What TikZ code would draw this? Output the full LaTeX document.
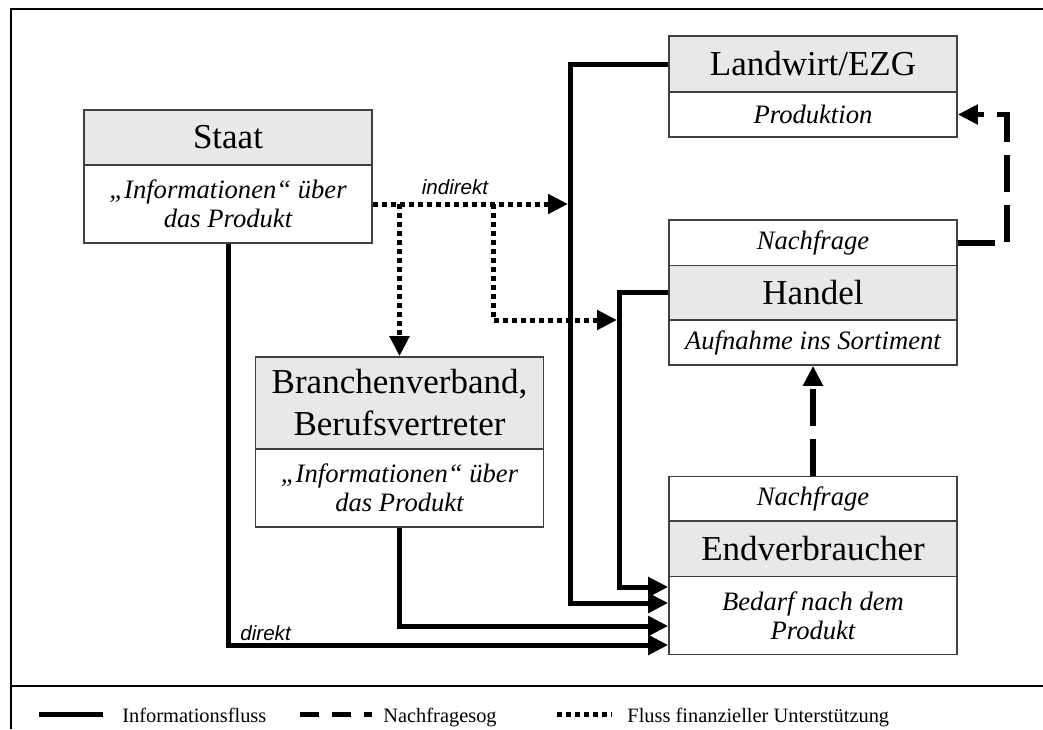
\documentclass[tikz,border=0pt]{standalone}
\usepackage{fontspec}
\setmainfont{Liberation Serif}
\setsansfont{Liberation Sans}
\usetikzlibrary{arrows.meta}
\definecolor{headgray}{gray}{0.91}
\definecolor{boxline}{gray}{0.25}
\begin{document}
\begin{tikzpicture}[x=0.5pt,y=-0.5pt,
  head/.style={draw=boxline, fill=headgray, line width=0.8pt, minimum width=144pt, inner sep=0pt, align=center, font=\fontsize{17.5}{21}\selectfont},
  body/.style={draw=boxline, fill=white, line width=0.8pt, minimum width=144pt, inner sep=0pt, align=center, font=\fontsize{13.3}{14.5}\selectfont\itshape},
  tip/.style={-{Triangle[length=10pt,width=9.5pt]}},
  info/.style={line width=2.5pt},
  demand/.style={line width=2.8pt, dash pattern=on 18.5pt off 6.5pt},
  fin/.style={line width=2.5pt, dash pattern=on 2.6pt off 1.9pt},
  lbl/.style={font=\sffamily\itshape\fontsize{10.3}{12}\selectfont, inner sep=0pt},
  legtext/.style={font=\fontsize{10.2}{12}\selectfont, inner sep=0pt, anchor=base west},
  frame/.style={line width=1pt}
]
\useasboundingbox (0,0) rectangle (1043,729);
% frame
\draw[frame] (11,729) -- (11,9) -- (1043,9);
\draw[frame] (11,686) -- (1043,686);

% Staat
\node[head, minimum height=27.5pt] (staatH) at (228,137.5) {Staat};
\node[body, minimum height=39pt] (staatB) at (228,204) {„Informationen“ über\\das Produkt};
% Landwirt
\node[head, minimum height=28pt] (landH) at (813,64) {Landwirt/EZG};
\node[body, minimum height=22.5pt] (landB) at (813,114.5) {Produktion};
% Handel
\node[body, minimum height=22.75pt] (handN) at (813,242.75) {Nachfrage};
\node[head, minimum height=27.25pt] (handH) at (813,292.75) {Handel};
\node[body, minimum height=22.5pt] (handB) at (813,342.5) {Aufnahme ins Sortiment};
% Endverbraucher
\node[body, minimum height=22.25pt] (endN) at (813,498.75) {Nachfrage};
\node[head, minimum height=27.75pt] (endH) at (813,548.75) {Endverbraucher};
\node[body, minimum height=39pt] (endB) at (813,615.5) {Bedarf nach dem\\Produkt};
% Branchenverband
\node[head, minimum height=46pt] (brH) at (399.5,403) {Branchenverband,\\Berufsvertreter};
\node[body, minimum height=39pt] (brB) at (399.5,488) {„Informationen“ über\\das Produkt};

% financial support (dotted)
\draw[fin, tip] (staatB.east) -- (568,204);
\draw[fin, tip] (399.5,204) -- (brH.north);
\draw[fin, tip] (493,204) |- (617,320);
\node[lbl, anchor=base] (indirekt) at (455,194) {indirekt};

% information flow (solid)
\draw[info, tip] (staatB.south) |- (endB.west |- 0,645);
\draw[info, tip] (brB.south) |- (endB.west |- 0,626);
\draw[info, tip] (landH.west) -| (570,603) -- (endB.west |- 0,603);
\draw[info, tip] (handH.west) -| (619,587) -- (endB.west |- 0,587);
\node[lbl, anchor=base west] (direkt) at (240,640) {direkt};

% demand pull (dashed)
\draw[demand, tip] (endN.north) -- (handB.south);
\draw[demand, tip] (handN.east) -- ++(49,0) |- (landB.east);

% legend
\coordinate (s1) at (39,714);
\coordinate (s2) at (103,714);
\draw[info] (s1) -- (s2);
\node[legtext] (t1) at (122,722) {Informationsfluss};
\coordinate (d1) at (300,714);
\coordinate (d2) at (372,714);
\draw[line width=2.5pt, dash pattern=on 9.5pt off 6.5pt] (d1) -- (d2);
\node[legtext] (t2) at (383,722) {Nachfragesog};
\coordinate (f1) at (557,714);
\coordinate (f2) at (612,714);
\draw[line width=2.5pt, dash pattern=on 2.6pt off 1.9pt] (f1) -- (f2);
\node[legtext] (t3) at (627,722) {Fluss finanzieller Unterstützung};
\end{tikzpicture}
\end{document}
